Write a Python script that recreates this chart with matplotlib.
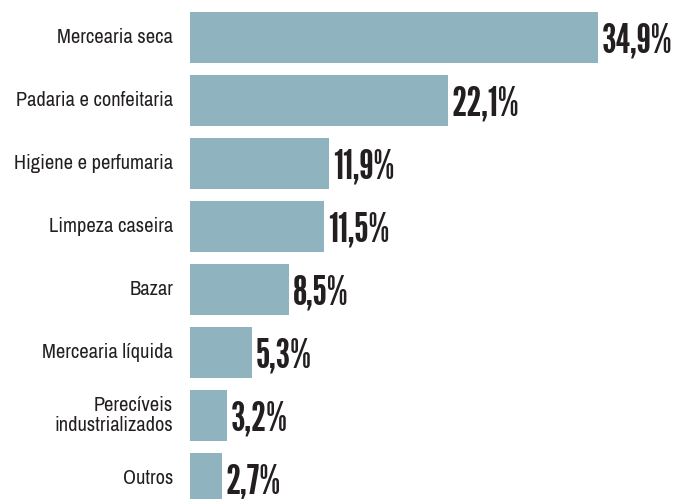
import matplotlib
matplotlib.use("Agg")
import matplotlib.pyplot as plt

categories = ['Mercearia seca', 'Padaria e confeitaria', 'Higiene e perfumaria',
              'Limpeza caseira', 'Bazar', 'Mercearia líquida',
              'Perecíveis\nindustrializados', 'Outros']
values = [34.9, 22.1, 11.9, 11.5, 8.5, 5.3, 3.2, 2.7]
value_labels = ['34,9%', '22,1%', '11,9%', '11,5%', '8,5%', '5,3%', '3,2%', '2,7%']

fig = plt.figure(figsize=(6.73, 4.99), dpi=100)
ax = fig.add_axes([190 / 673, 0, 483 / 673, 1])

ax.barh(range(len(values)), values, height=0.81, color='#8fb3bf')
for i, (v, lab) in enumerate(zip(values, value_labels)):
    ax.text(v + 0.3, i + 0.06, lab, va='center', ha='left', fontsize=30,
            color='#231f20', family='League Gothic')
    ax.text(-1.45, i, categories[i], va='center', ha='right', fontsize=14.7,
            color='#231f20', family='Archivo Narrow', linespacing=1.1)

ax.set_xlim(0, 41.3)
ax.set_ylim(7.325, -0.595)
ax.axis('off')

plt.savefig('out.png', dpi=100)
